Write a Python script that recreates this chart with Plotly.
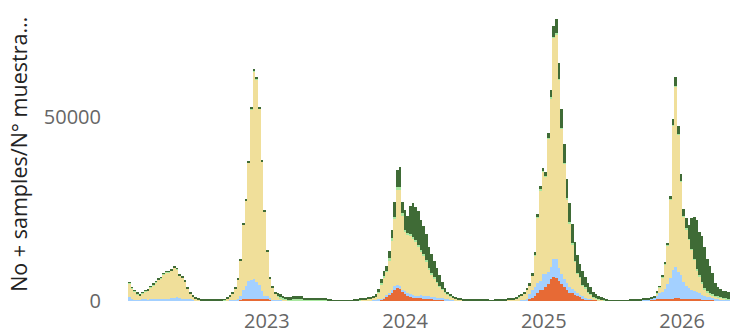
import pandas as pd
import plotly.graph_objects as go

# Weekly series, stacked bottom -> top: orange, light blue, khaki, light green, dark green
orange = [
    0, 0, 0, 0, 0, 0, 0, 0, 0, 0, 0, 0, 0, 0, 0, 0, 0, 0, 0, 0, 0, 0, 0, 0, 0, 0, 0, 0, 0, 0, 0, 0, 0, 0, 0, 0,
    0, 0, 0, 0, 0, 0, 300, 450, 450, 450, 450, 450, 450, 450, 450, 450, 450, 450, 200, 0, 0,
    0, 0, 0, 0, 0, 0, 0, 0, 0, 0, 0, 0, 0, 0, 0, 0, 0, 0, 0, 0, 0, 0, 0, 0, 0, 0, 0, 0, 0, 0, 0, 0, 0, 50, 50, 100, 150,
    270, 450, 630, 1180, 1500, 2090, 3000, 3540, 3170, 2540, 1900, 1360, 1180, 900, 720, 720, 720, 630, 630, 630,
    500, 400, 360, 360, 300, 250, 150, 100, 50, 50, 50, 30,
    0, 0, 0, 0, 0, 0, 0, 0, 0, 0, 0, 0, 0, 0, 0, 0, 0, 0, 0, 0, 0, 20, 50, 80,
    270, 450, 730, 1360, 2090, 3000, 3000, 3720, 4630, 5900, 6440, 6170, 5530, 4630, 3900, 3000, 2270, 2090, 1720, 1360,
    1000, 730, 540, 360, 360, 300, 300, 100, 50, 0, 0,
    0, 0, 0, 0, 0, 0, 0, 0, 0, 0, 0, 0, 0, 0, 100, 200, 300,
    400, 450, 500, 500, 500, 500, 500, 550, 700, 800, 600, 500, 500, 500, 500, 500, 500, 500, 400, 400, 400, 300, 300,
    100, 100, 100, 100, 100, 100,
]
blue = [
    1090, 630, 270, 270, 270, 450, 450, 270, 450, 450, 450, 450, 630, 630, 630, 630, 900, 900, 1090, 900, 630, 630, 450, 450,
    270, 270, 200, 150, 100, 100, 100, 100, 100, 100, 100, 100,
    200, 270, 300, 300, 400, 540, 1060, 2550, 3710, 4990, 5350, 5620, 4800, 3900, 2350, 1000, 1000, 280, 200, 300, 250,
    200, 150, 100, 100, 100, 50, 50, 50, 50, 50, 50, 50, 50, 50, 50, 50, 50, 50, 30, 30, 0, 0, 0, 0, 0, 0, 0, 0, 30, 50,
    60, 80, 100, 100, 100, 100, 150,
    200, 200, 200, 500, 700, 900, 1000, 700, 900, 500, 700, 800, 700, 700, 700, 700, 800, 800, 700, 700,
    600, 600, 500, 450, 400, 350, 300, 250, 200, 180, 150, 120,
    70, 50, 50, 50, 50, 50, 50, 50, 50, 50, 0, 0, 50, 50, 50, 50, 50, 50, 50, 50, 90, 100, 100, 180,
    270, 1450, 2270, 2540, 2710, 2500, 4350, 3630, 3370, 3440, 4990, 5260, 3370, 2720, 2000, 2000, 1630, 1110, 910, 730,
    720, 540, 360, 270, 90, 100, 100, 100, 100, 100, 80,
    0, 0, 0, 0, 0, 0, 0, 0, 50, 50, 50, 50, 50, 300, 300, 300, 400,
    600, 1180, 1590, 2040, 2670, 4130, 5670, 7890, 8640, 7180, 6470, 4760, 3580, 2950, 2500, 2220, 1860, 1590, 1230, 960,
    780, 700, 520, 630, 530, 440, 350, 350, 300,
]
khaki = [
    3730, 2830, 2370, 1560, 1190, 1650, 2190, 2550, 3110, 3840, 4640, 5370, 5550, 6640, 7180, 7180, 7370, 8180, 7540, 6010,
    5730, 4640, 2920, 1560, 920, 380, 180, 20, 0, 0, 0, 0, 0, 0, 0, 0,
    50, 460, 970, 1740, 3000, 5310, 9610, 17760, 23130, 32140, 46430, 56430, 55070, 47980, 35110, 22850, 11970, 5340, 3220,
    1640, 920,
    600, 260, 200, 100, 100, 40, 40, 40, 40, 0, 0, 0, 0, 0, 0, 0, 0, 50, 0, 0, 0, 0, 0, 0, 0, 0, 0, 0, 0, 30,
    200, 250, 300, 450, 500, 700, 900,
    1800, 3720, 5570, 6210, 8860, 13590, 18500, 26170, 26380, 20360, 16090, 15940, 15820, 15400, 14680, 13380, 11880, 10870,
    9370, 7370, 6100, 5000, 4040, 3090, 2300, 1700, 1250, 950, 650, 350, 200, 130,
    100, 30, 30, 30, 30, 30, 30, 30, 30, 30, 0, 0, 30, 30, 30, 30, 30, 300, 300, 300, 600, 930, 1250, 1700,
    2540, 2350, 3900, 8490, 17870, 24700, 27920, 26460, 36130, 45760, 60170, 61070, 51250, 39550, 31420, 22730, 17240, 12190,
    8070, 5310, 4620, 2840, 2550, 1700, 1270, 630, 350, 280, 160, 120, 40,
    0, 0, 0, 0, 0, 0, 0, 0, 30, 30, 30, 30, 30, 100, 60, 0, 0,
    0, 450, 1620, 3980, 6840, 10490, 21400, 39250, 49070, 37280, 25490, 17780, 15420, 13150, 10900, 8440, 5890, 4530, 3000,
    1810, 1180, 900, 720, 450, 370, 280, 180, 90, 50,
]
light_green = [
    80, 80, 80, 80, 80, 80, 80, 80, 250, 250, 80, 80, 80, 80, 80, 80, 80, 80, 80, 80, 80, 80, 80, 80, 80, 80, 80, 80,
    0, 0, 0, 0, 0, 150, 150, 150,
    50, 0, 0, 50, 50, 50, 100, 100, 100, 150, 200, 270, 270, 100, 100, 100, 100, 100, 100, 200, 300,
    300, 300, 300, 300, 300, 450, 450, 450, 450, 400, 400, 400, 400, 400, 400, 400, 400, 200, 150, 150, 70, 70, 70, 70,
    70, 70, 70, 70, 150, 150, 100, 100, 100, 100, 100, 150, 150,
    270, 450, 360, 360, 540, 450, 450, 540, 500, 450, 630, 300, 400, 400, 400, 400, 400, 400, 400, 400,
    400, 400, 300, 300, 250, 200, 150, 100, 80, 50, 50, 50,
    100, 100, 100, 100, 100, 100, 100, 100, 100, 100, 50, 50, 100, 100, 100, 100, 100, 100, 100, 100, 100, 100, 100, 100,
    100, 100, 150, 270, 200, 200, 200, 200, 200, 300, 300, 300, 300, 300, 300, 300, 300, 300, 300, 300,
    300, 250, 250, 200, 200, 150, 150, 150, 150, 150, 150,
    70, 70, 70, 70, 70, 70, 70, 70, 100, 100, 100, 100, 100, 60, 0, 0, 0,
    0, 100, 100, 100, 150, 150, 180, 90, 180, 170, 190, 150, 300, 300, 300, 400, 400, 400, 500, 500,
    450, 400, 350, 300, 250, 250, 200, 200, 200,
]
dark_green = [
    270, 270, 270, 270, 270, 270, 270, 270, 270, 270, 270, 270, 270, 270, 270, 270, 270, 270, 270, 270, 270, 270, 270, 270,
    270, 270, 270, 200, 200, 200, 200, 200, 200, 200, 200, 200,
    200, 270, 270, 270, 270, 270, 270, 270, 270, 270, 270, 270, 270, 270, 270, 270, 270, 270, 270, 400, 630,
    700, 650, 600, 500, 500, 820, 820, 820, 820, 450, 450, 450, 450, 450, 450, 450, 450, 400, 270, 270, 200, 200, 200, 200,
    200, 200, 200, 200, 270, 270, 270, 270, 300, 300, 350, 400, 450,
    720, 1180, 1360, 1270, 2000, 2270, 3900, 4700, 5600, 3000, 5440, 4700, 7750, 9200, 9200, 9300, 8200, 7800, 7100, 5700,
    5100, 4400, 3700, 2800, 1950, 1000, 550, 300, 270, 270, 270, 270,
    270, 270, 270, 270, 270, 270, 270, 270, 270, 270, 150, 150, 270, 270, 270, 270, 270, 270, 270, 270, 300, 300, 300, 300,
    360, 450, 450, 540, 730, 900, 730, 1090, 1270, 2000, 2900, 3900, 4350, 5000, 5080, 5170, 5260, 5260, 5000, 4800,
    3360, 3800, 2900, 2270, 1800, 1180, 900, 730, 540, 360, 270,
    200, 200, 200, 200, 200, 200, 200, 200, 270, 270, 270, 270, 270, 270, 270, 230, 200,
    180, 360, 270, 450, 540, 630, 820, 1720, 2360, 2270, 1810, 1810, 2900, 3800, 8300, 11240, 13350, 11880, 12570, 11130,
    8590, 7200, 5810, 3520, 2650, 2200, 1980, 2070, 1850,
]

weeks = pd.date_range("2022-01-03", periods=len(khaki), freq="7D")
year_ticks = ["2023-01-01", "2024-01-01", "2025-01-01", "2026-01-01"]
year_labels = ["2023", "2024", "2025", "2026"]
y_ticks = [0, 50000]
y_labels = ["0", "50000"]

series = [
    ("orange", orange, "#E76A35"),
    ("blue", blue, "#A3D0FF"),
    ("khaki", khaki, "#F0DF9A"),
    ("light green", light_green, "#A9E8A0"),
    ("dark green", dark_green, "#3F6B36"),
]

fig = go.Figure()
for name, vals, col in series:
    fig.add_trace(go.Bar(x=weeks, y=vals, name=name, marker=dict(color=col, line=dict(width=0))))

FONT = "Open Sans"
fig.update_layout(
    template="none",
    width=730, height=336,
    margin=dict(l=128, r=0, t=7, b=35, pad=0),
    barmode="stack", bargap=0,
    showlegend=False,
    paper_bgcolor="white", plot_bgcolor="white",
    font=dict(family=FONT, size=20, color="#666666"),
    xaxis=dict(
        type="date", automargin=False,
        range=["2021-12-30 12:00", "2026-05-07 12:00"],
        tickvals=year_ticks, ticktext=year_labels,
        showgrid=False, zeroline=False, showline=False, ticks="",
        ticklabelstandoff=6,
        tickfont=dict(family=FONT, size=20, color="#666666"),
    ),
    yaxis=dict(
        automargin=False,
        range=[0, 80000],
        tickvals=y_ticks, ticktext=y_labels,
        showgrid=False, zeroline=False, showline=False, ticks="",
        ticklabelstandoff=26,
        tickfont=dict(family=FONT, size=20, color="#666666"),
    ),
    annotations=[dict(
        text="No + samples/N° muestra…",
        xref="paper", yref="paper", x=-0.183, y=0.5,
        xanchor="center", yanchor="middle", textangle=-90, showarrow=False,
        font=dict(family=FONT, size=21.5, color="#222222"),
    )],
)

# remove the browser's default 8px page margin so the figure fills the window exactly
fig.write_html(
    "out.html",
    config={"displayModeBar": False},
    post_script="document.body.style.margin='0';",
)
